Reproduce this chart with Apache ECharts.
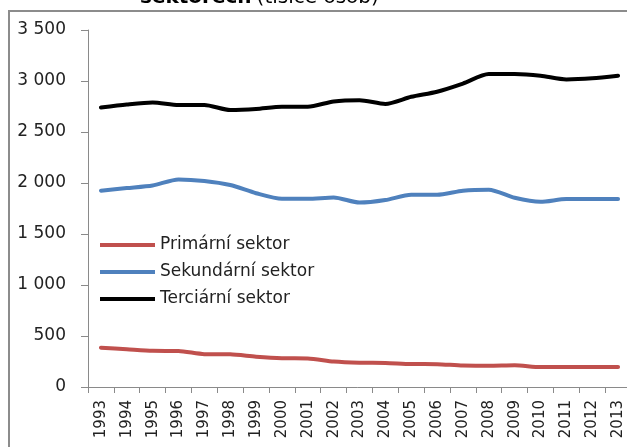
<!DOCTYPE html>
<html>
<head>
<meta charset="utf-8">
<script src="https://cdn.jsdelivr.net/npm/echarts@6/dist/echarts.min.js"></script>
<style>
  html, body { margin: 0; padding: 0; background: #fff; }
  #chart { width: 627px; height: 447px; }
</style>
</head>
<body>
<div id="chart"></div>
<script>
const years = ['1993', '1994', '1995', '1996', '1997', '1998', '1999', '2000', '2001', '2002', '2003',
  '2004', '2005', '2006', '2007', '2008', '2009', '2010', '2011', '2012', '2013']

// tisíce osob
const primarni = [385, 370, 355, 353, 322, 320, 297, 282, 280, 250, 238, 236, 225, 224, 210, 209, 214, 195, 195, 195, 195]
const sekundarni = [1925, 1950, 1975, 2035, 2020, 1980, 1900, 1845, 1845, 1858, 1808, 1833, 1885, 1885, 1925, 1935, 1855, 1815, 1843, 1843, 1843]
const terciarni = [2740, 2770, 2790, 2765, 2765, 2715, 2725, 2748, 2748, 2800, 2812, 2775, 2845, 2895, 2975, 3068, 3068, 3052, 3015, 3026, 3052]

const yTicks = [0, 500, 1000, 1500, 2000, 2500, 3000, 3500]

const fontFamily = '"DejaVu Sans", sans-serif'
const axisGray = '#8a8a8a'

const chart = echarts.init(document.getElementById('chart'))

const fmt = (v) => String(v).replace(/\B(?=(\d{3})+(?!\d))/g, ' ')

const lineSeries = (name, data, color) => ({
  name: name,
  type: 'line',
  data: data,
  smooth: 0.25,
  symbol: 'none',
  lineStyle: { color: color, width: 4, cap: 'round', join: 'round' },
  itemStyle: { color: color },
  animation: false
})

chart.setOption({
  animation: false,
  title: {
    text: '{b|sektorech} {n|(tisíce osob)}',
    left: 140,
    top: -12,
    padding: 0,
    textStyle: {
      fontWeight: 'normal',
      rich: {
        b: { fontFamily: fontFamily, fontSize: 20, fontWeight: 'bold', color: '#000' },
        n: { fontFamily: fontFamily, fontSize: 20, fontWeight: 'normal', color: '#000' }
      }
    }
  },
  graphic: [
    {
      type: 'rect',
      shape: { x: 9, y: 11, width: 700, height: 500 },
      style: { fill: 'none', stroke: '#8c8c8c', lineWidth: 2 },
      silent: true
    }
  ],
  legend: {
    orient: 'vertical',
    left: 100,
    top: 235,
    padding: 0,
    itemWidth: 55,
    itemHeight: 4,
    itemGap: 7,
    icon: 'rect',
    textStyle: { fontFamily: fontFamily, fontSize: 17, color: '#222', lineHeight: 20 },
    data: ['Primární sektor', 'Sekundární sektor', 'Terciární sektor']
  },
  grid: {
    left: 88,
    top: 30,
    width: 543,
    height: 357,
    outerBoundsMode: 'none'
  },
  xAxis: {
    type: 'category',
    data: years,
    boundaryGap: true,
    axisLine: { lineStyle: { color: axisGray, width: 1 } },
    axisTick: { show: true, length: 6, interval: 0, lineStyle: { color: axisGray } },
    axisLabel: {
      interval: 0,
      rotate: 90,
      margin: 13,
      fontFamily: fontFamily,
      fontSize: 15,
      color: '#222'
    },
    splitLine: { show: false }
  },
  yAxis: {
    type: 'value',
    min: yTicks[0],
    max: yTicks[yTicks.length - 1],
    interval: 500,
    axisLine: { show: true, lineStyle: { color: axisGray, width: 1 } },
    axisTick: { show: true, length: 7, lineStyle: { color: axisGray } },
    axisLabel: {
      margin: 22,
      fontFamily: fontFamily,
      fontSize: 17,
      color: '#222',
      formatter: fmt
    },
    splitLine: { show: false }
  },
  series: [
    lineSeries('Primární sektor', primarni, '#c0504d'),
    lineSeries('Sekundární sektor', sekundarni, '#4f81bd'),
    lineSeries('Terciární sektor', terciarni, '#000000')
  ]
})
</script>
</body>
</html>
